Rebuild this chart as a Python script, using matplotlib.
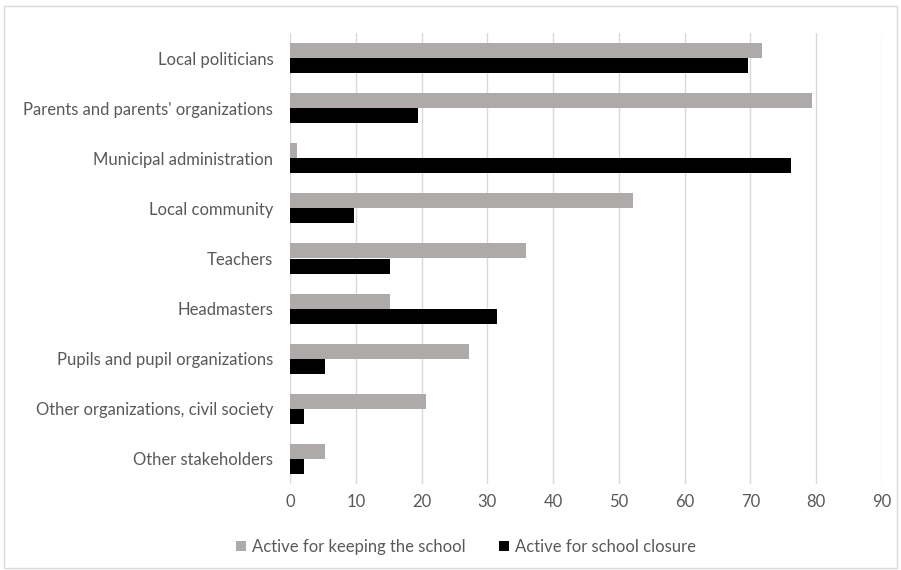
import matplotlib.pyplot as plt
import numpy as np
from matplotlib.patches import Rectangle

categories = [
    "Local politicians",
    "Parents and parents' organizations",
    "Municipal administration",
    "Local community",
    "Teachers",
    "Headmasters",
    "Pupils and pupil organizations",
    "Other organizations, civil society",
    "Other stakeholders",
]
keeping = [71.7, 79.3, 1.0, 52.2, 35.9, 15.2, 27.2, 20.7, 5.3]
closure = [69.6, 19.5, 76.1, 9.7, 15.2, 31.5, 5.3, 2.1, 2.1]

plt.rcParams["font.family"] = ["Lato", "DejaVu Sans"]
text_color = "#595959"

fig = plt.figure(figsize=(9.01, 5.70), dpi=100)
ax = fig.add_axes([290 / 901, 1 - 484 / 570, (882 - 290) / 901, (484 - 33) / 570])

y = np.arange(len(categories))
h = 0.3
ax.barh(y - h / 2, keeping, height=h, color="#aeaaaa", label="Active for keeping the school", zorder=3)
ax.barh(y + h / 2, closure, height=h, color="#000000", label="Active for school closure", zorder=3)

ax.set_xlim(0, 90)
ax.set_ylim(len(categories) - 0.5, -0.5)
ax.set_xticks(range(0, 91, 10))
ax.set_yticks(y)
ax.set_yticklabels(categories)
ax.tick_params(axis="both", length=0, labelsize=12, colors=text_color)
ax.tick_params(axis="x", pad=7)
ax.tick_params(axis="y", pad=12)
ax.grid(axis="x", color="#d9d9d9", linewidth=1, zorder=0)
for s in ax.spines.values():
    s.set_visible(False)

fig.legend(loc="center", bbox_to_anchor=(466 / 901, 1 - 547 / 570), ncol=2, frameon=False,
           fontsize=12, labelcolor=text_color, handlelength=0.6, handleheight=0.6,
           handletextpad=0.35, columnspacing=2.0)

fig.patches.append(Rectangle((0.004, 0.004), 0.992, 0.985, transform=fig.transFigure,
                             fill=False, edgecolor="#d9d9d9", linewidth=1))

fig.savefig("out.png", dpi=100)
